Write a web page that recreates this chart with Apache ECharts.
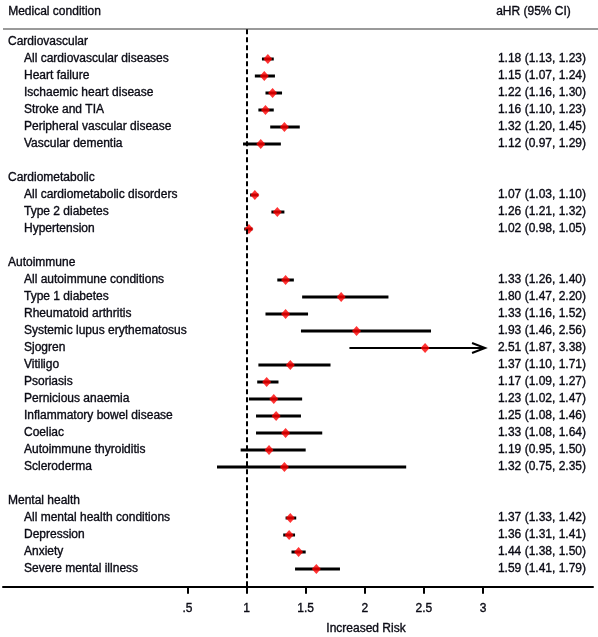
<!DOCTYPE html>
<html>
<head>
<meta charset="utf-8">
<script src="https://cdn.jsdelivr.net/npm/echarts@6/dist/echarts.min.js"></script>
<style>
html,body{margin:0;padding:0;background:#fff;}
#chart{width:598px;height:637px;}
</style>
</head>
<body>
<div id="chart"></div>
<script>
// ---- data ----
const groups = ['Cardiovascular', 'Cardiometabolic', 'Autoimmune', 'Mental health'];
const conditions = [
  'All cardiovascular diseases', 'Heart failure', 'Ischaemic heart disease', 'Stroke and TIA',
  'Peripheral vascular disease', 'Vascular dementia',
  'All cardiometabolic disorders', 'Type 2 diabetes', 'Hypertension',
  'All autoimmune conditions', 'Type 1 diabetes', 'Rheumatoid arthritis', 'Systemic lupus erythematosus',
  'Sjogren', 'Vitiligo', 'Psoriasis', 'Pernicious anaemia', 'Inflammatory bowel disease', 'Coeliac',
  'Autoimmune thyroiditis', 'Scleroderma',
  'All mental health conditions', 'Depression', 'Anxiety', 'Severe mental illness'
];
const groupOf = [0,0,0,0,0,0, 1,1,1, 2,2,2,2,2,2,2,2,2,2,2,2, 3,3,3,3];
const aHR    = [1.18,1.15,1.22,1.16,1.32,1.12, 1.07,1.26,1.02, 1.33,1.80,1.33,1.93,2.51,1.37,1.17,1.23,1.25,1.33,1.19,1.32, 1.37,1.36,1.44,1.59];
const ciLow  = [1.13,1.07,1.16,1.10,1.20,0.97, 1.03,1.21,0.98, 1.26,1.47,1.16,1.46,1.87,1.10,1.09,1.02,1.08,1.08,0.95,0.75, 1.33,1.31,1.38,1.41];
const ciHigh = [1.23,1.24,1.30,1.23,1.45,1.29, 1.10,1.32,1.05, 1.40,2.20,1.52,2.56,3.38,1.71,1.27,1.47,1.46,1.64,1.50,2.35, 1.42,1.41,1.50,1.79];
const tickValues = [0.5, 1, 1.5, 2, 2.5, 3];
const tickLabels = ['.5', '1', '1.5', '2', '2.5', '3'];
const xTitle = 'Increased Risk';
const leftHeader = 'Medical condition';
const rightHeader = 'aHR (95% CI)';

// ---- build row layout from groups ----
const rows = []; // {label, kind, idx}
groups.forEach((g, gi) => {
  if (gi > 0) rows.push({label: '', kind: 'blank'});
  rows.push({label: g, kind: 'group'});
  conditions.forEach((c, i) => { if (groupOf[i] === gi) rows.push({label: c, kind: 'item', idx: i}); });
});
const rowOfCond = {};
rows.forEach((r, ri) => { if (r.kind === 'item') rowOfCond[r.idx] = ri; });
const rowIdx = rows.map((r, i) => i);

const fmt = v => v.toFixed(2);
const ciData = conditions.map((c, i) => [rowOfCond[i], aHR[i], ciLow[i], ciHigh[i]]);
const ptData = conditions.map((c, i) => [aHR[i], rowOfCond[i]]);
const capValue = tickValues[tickValues.length - 1];

const FONT = 'Liberation Sans, Arial, sans-serif';
const TXT = '#0a0a14';
const BW = 0.35;
const chart = echarts.init(document.getElementById('chart'), null, {renderer: 'canvas'});

const yCommon = {
  type: 'value', inverse: true, min: -0.75, max: rows.length + 0.05,
  splitLine: {show: false}, axisLine: {show: false}, axisTick: {show: false}
};
const txtStyle = {color: TXT, fontSize: 12, fontFamily: FONT, textBorderColor: TXT, textBorderWidth: BW};

chart.setOption({
  animation: false,
  backgroundColor: '#fff',
  grid: {left: 3, right: 5, top: 29.25, bottom: 50.15, containLabel: false},
  xAxis: {
    type: 'value', min: -1.06, max: 3.93,
    splitLine: {show: false},
    axisLine: {show: true, onZero: false, lineStyle: {color: '#000', width: 2}},
    axisTick: {show: true, customValues: tickValues, length: 7, lineStyle: {color: '#000', width: 2}},
    axisLabel: Object.assign({
      customValues: tickValues, margin: 16,
      formatter: v => { const k = tickValues.indexOf(v); return k >= 0 ? tickLabels[k] : ''; }
    }, txtStyle)
  },
  yAxis: [
    Object.assign({}, yCommon, {
      position: 'left',
      axisLabel: Object.assign({
        inside: true, margin: 5, customValues: rowIdx,
        formatter: v => {
          const r = rows[Math.round(v)];
          if (!r || r.kind === 'blank') return '';
          return r.kind === 'group' ? '{g|' + r.label + '}' : '{i|' + r.label + '}';
        },
        rich: {
          g: Object.assign({}, txtStyle),
          i: Object.assign({padding: [0, 0, 0, 16]}, txtStyle)
        }
      }, txtStyle)
    }),
    Object.assign({}, yCommon, {
      position: 'right',
      axisLabel: Object.assign({
        inside: true, margin: 7, customValues: rowIdx,
        formatter: v => {
          const r = rows[Math.round(v)];
          if (!r || r.kind !== 'item') return '';
          const i = r.idx;
          return fmt(aHR[i]) + ' (' + fmt(ciLow[i]) + ', ' + fmt(ciHigh[i]) + ')';
        }
      }, txtStyle)
    })
  ],
  graphic: [
    {type: 'text', left: 8, top: 6, style: {text: leftHeader, fill: TXT, font: '12px ' + FONT, stroke: TXT, lineWidth: BW}},
    {type: 'text', left: 496, top: 6, style: {text: rightHeader, fill: TXT, font: '12px ' + FONT, stroke: TXT, lineWidth: BW}},
    {type: 'line', shape: {x1: 3, y1: 29, x2: 598, y2: 29}, style: {stroke: '#9a9a9a', lineWidth: 2}},
    {type: 'text', x: 366, y: 629, style: {text: xTitle, fill: TXT, font: '12px ' + FONT, textAlign: 'center', textVerticalAlign: 'middle', stroke: TXT, lineWidth: BW}}
  ],
  series: [
    {
      type: 'custom',
      yAxisIndex: 0,
      data: ciData,
      encode: {x: [1, 2, 3], y: 0},
      renderItem: (params, api) => {
        const row = api.value(0), lo = api.value(2), hi = api.value(3);
        const clipped = hi > capValue;
        const p1 = api.coord([lo, row]);
        const p2 = api.coord([clipped ? capValue : hi, row]);
        const children = [{
          type: 'line',
          shape: {x1: p1[0], y1: p1[1], x2: p2[0] + (clipped ? 2 : 0), y2: p2[1]},
          style: {stroke: '#000', lineWidth: clipped ? 2 : 3}
        }];
        if (clipped) {
          const tx = p2[0] + 2, ty = p2[1];
          children.push({
            type: 'polyline',
            shape: {points: [[tx - 13, ty - 5], [tx, ty], [tx - 13, ty + 5]]},
            style: {stroke: '#000', lineWidth: 2, fill: null}
          });
        }
        return {type: 'group', children: children};
      },
      z: 2
    },
    {
      type: 'scatter',
      yAxisIndex: 0,
      data: ptData,
      symbol: 'diamond',
      symbolSize: [9, 10],
      itemStyle: {color: '#ff0000'},
      z: 3,
      markLine: {
        silent: true,
        symbol: 'none',
        label: {show: false},
        lineStyle: {color: '#000', type: [5, 3], width: 2},
        data: [{xAxis: 1}]
      }
    }
  ]
});
</script>
</body>
</html>
